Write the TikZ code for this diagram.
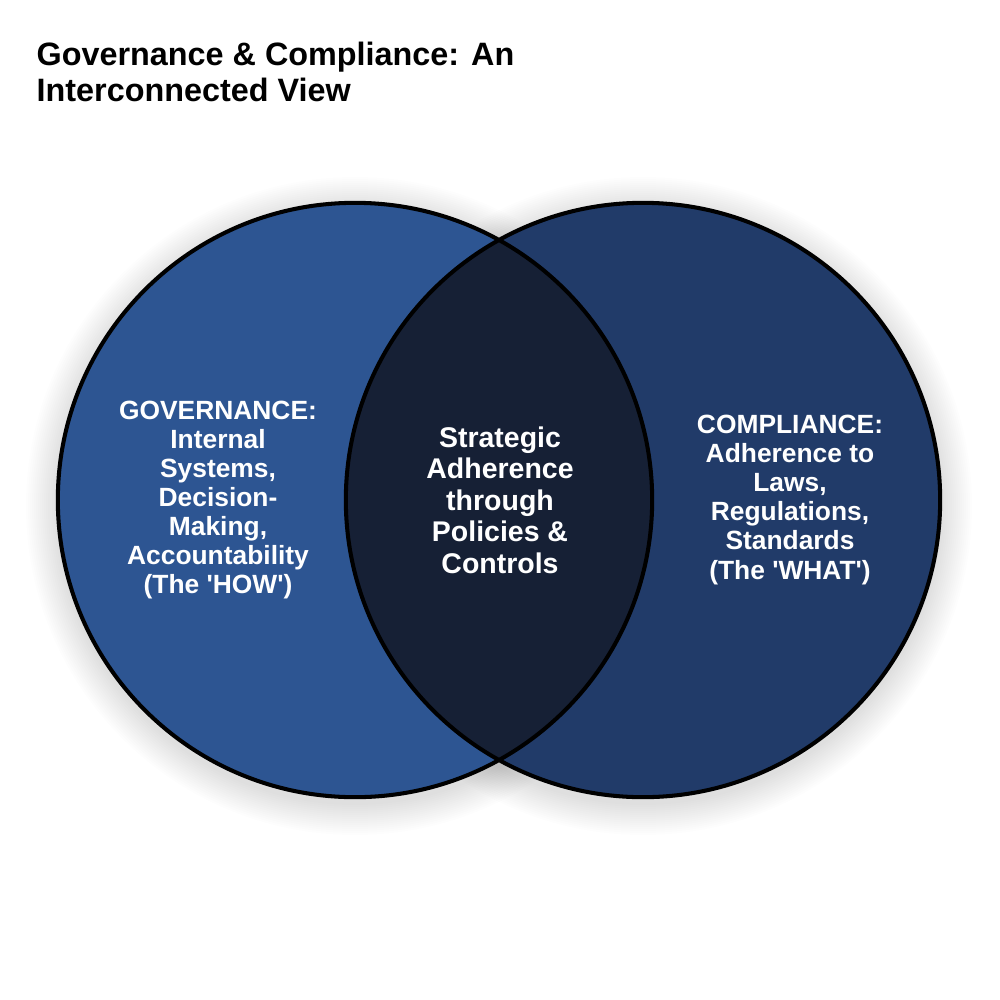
\documentclass[tikz,border=0pt]{standalone}
\usepackage{fontspec}
\setmainfont{Liberation Sans}
\definecolor{govblue}{HTML}{2D5592}
\definecolor{compblue}{HTML}{213B69}
\definecolor{midblue}{HTML}{162035}
\tikzset{
  ring/.style={draw=black, line width=1.15pt},
  sidetext/.style={text=white, font=\bfseries\fontsize{7.5pt}{8.25pt}\selectfont, align=center, inner sep=0pt},
  midtext/.style={text=white, font=\bfseries\fontsize{8.1pt}{8.96pt}\selectfont, align=center, inner sep=0pt},
  titletext/.style={text=black, font=\bfseries\fontsize{9.2pt}{10.25pt}\selectfont, align=left, anchor=north west, inner sep=0pt},
}
\newcommand{\sq}{\textquotesingle}
\begin{document}
\begin{tikzpicture}[x=0.01cm,y=-0.01cm]
\useasboundingbox (0,0) rectangle (1000,1000);
\fill[white] (0,0) rectangle (1000,1000);
% soft shadow
\foreach \k in {1,...,16}{
  \fill[black, opacity=0.009] (355,506) circle[radius={(297+2*\k)*0.01cm}];
  \fill[black, opacity=0.009] (643,506) circle[radius={(297+2*\k)*0.01cm}];
}
\coordinate (cl) at (355,500);
\coordinate (cr) at (643,500);
\fill[govblue] (cl) circle[radius=2.97cm];
\fill[compblue] (cr) circle[radius=2.97cm];
\begin{scope}
  \clip (cl) circle[radius=2.97cm];
  \fill[midblue] (cr) circle[radius=2.97cm];
\end{scope}
\draw[ring] (cl) circle[radius=2.97cm];
\draw[ring] (cr) circle[radius=2.97cm];
\node[titletext] (title) at (36,41) {Governance \& Compliance: An\\Interconnected View};
\node[sidetext] (gov) at (218,500) {GOVERNANCE:\\Internal\\Systems,\\Decision-\\Making,\\Accountability\\(The \sq HOW\sq)};
\node[midtext] (mid) at (500,500) {Strategic\\Adherence\\through\\Policies \&\\Controls};
\node[sidetext] (comp) at (790,500) {COMPLIANCE:\\Adherence to\\Laws,\\Regulations,\\Standards\\(The \sq WHAT\sq)};
\end{tikzpicture}
\end{document}
